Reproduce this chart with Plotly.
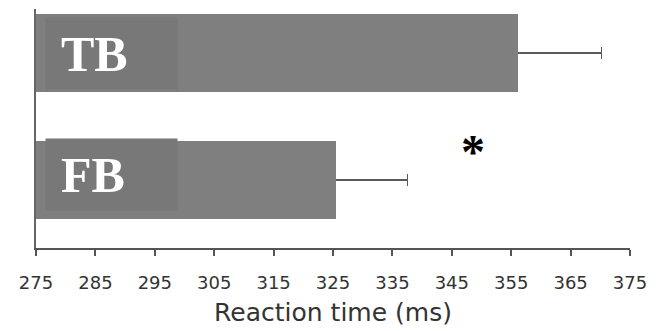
import plotly.graph_objects as go

categories = ["FB", "TB"]
cat_pos = [0, 1]
rt_means = [325.5, 356.2]
rt_errors = [12.0, 14.0]
x_ticks = [275, 285, 295, 305, 315, 325, 335, 345, 355, 365, 375]
sig_x, sig_y = 348.1, 0.255

bar_len = [m - 275 for m in rt_means]

fig = go.Figure()
# bars with symmetric error bars (left half is hidden by the overlay bars)
fig.add_trace(go.Bar(
    y=cat_pos, x=bar_len, base=275, orientation="h",
    width=0.61, marker=dict(color="#7f7f7f", line=dict(width=0)),
    error_x=dict(type="data", array=rt_errors, color="#5a5a5a", thickness=1.5, width=6),
    showlegend=False, hoverinfo="skip",
))
fig.add_trace(go.Bar(
    y=cat_pos, x=bar_len, base=275, orientation="h",
    width=0.61, marker=dict(color="#7f7f7f", line=dict(width=0)),
    showlegend=False,
))

for p, c in zip(cat_pos, categories):
    fig.add_annotation(
        x=275, y=p, xref="x", yref="y", text=f"<b>{c}</b>", showarrow=False,
        xanchor="left", yanchor="middle", xshift=9, yshift=(-1 if c == "TB" else 5),
        width=101, height=41, borderpad=15, align="left", valign="middle",
        bgcolor="#787878",
        font=dict(family="Liberation Serif", size=50, color="white"),
    )

fig.add_annotation(x=sig_x, y=sig_y, xref="x", yref="y", text="<b>*</b>",
                   showarrow=False, font=dict(family="Liberation Serif", size=48, color="black"),
                   xshift=3, yshift=-4)

fig.update_layout(
    width=656, height=331,
    margin=dict(l=36, r=22, t=9, b=82),
    paper_bgcolor="white", plot_bgcolor="white",
    barmode="overlay", bargap=0,
    xaxis=dict(range=[275, 375], tickvals=x_ticks, ticktext=[str(t) for t in x_ticks],
               ticks="outside", ticklen=6, tickwidth=1.5, tickcolor="#555",
               ticklabelstandoff=12,
               showline=True, linecolor="#555", linewidth=1.5, showgrid=False, zeroline=False,
               tickfont=dict(family="DejaVu Sans", size=18, color="#333"),
               title=dict(text="Reaction time (ms)", font=dict(family="DejaVu Sans", size=25, color="#333"),
                          standoff=11)),
    yaxis=dict(range=[-0.537, 1.345], showticklabels=False, ticks="", showgrid=False,
               zeroline=False, showline=True, linecolor="#666", linewidth=2),
)

fig.write_html("out.html")
